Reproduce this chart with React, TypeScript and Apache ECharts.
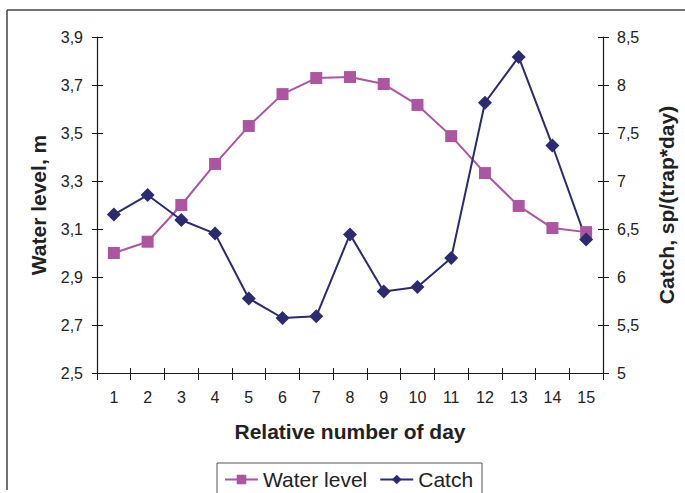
import React, { useEffect, useRef } from "react";
import * as echarts from "echarts";

const days = ["1", "2", "3", "4", "5", "6", "7", "8", "9", "10", "11", "12", "13", "14", "15"];
const waterLevel = [3.0, 3.047, 3.2, 3.371, 3.529, 3.662, 3.729, 3.733, 3.704, 3.617, 3.487, 3.333, 3.196, 3.104, 3.087];
const catchValues = [6.65, 6.854, 6.594, 6.452, 5.776, 5.573, 5.59, 6.444, 5.85, 5.896, 6.198, 7.815, 8.292, 7.37, 6.39];

const WATER_COLOR = "#AC55A0";
const CATCH_COLOR = "#2C2A70";
const AXIS_COLOR = "#1a1a1a";
const FONT = "'Liberation Sans', Arial, sans-serif";

export default function App() {
  const ref = useRef<HTMLDivElement>(null);
  useEffect(() => {
    if (!ref.current) return;
    const chart = echarts.init(ref.current, null, { renderer: "svg" });
    const fmt = (v: number) => String(Math.round(v * 10) / 10).replace(".", ",");
    const labelStyle = { color: "#222", fontSize: 16, fontFamily: FONT };
    const nameStyle = { color: "#222", fontSize: 21, fontWeight: "bold" as const, fontFamily: FONT };
    chart.setOption({
      animation: false,
      backgroundColor: "#fff",
      grid: { left: 97, right: 82, top: 37, bottom: 120 },
      legend: {
        left: 224,
        top: 469,
        padding: 0,
        itemWidth: 33,
        itemHeight: 12,
        itemGap: 12,
        textStyle: { color: "#222", fontSize: 21, fontFamily: FONT },
        data: ["Water level", "Catch"],
      },
      graphic: [
        { type: "line", shape: { x1: 7, y1: 10, x2: 690, y2: 10 }, style: { stroke: "#444", lineWidth: 1.5 } },
        { type: "line", shape: { x1: 7, y1: 10, x2: 7, y2: 490 }, style: { stroke: "#444", lineWidth: 1.5 } },
        { type: "rect", shape: { x: 217, y: 463, width: 265, height: 45 }, style: { fill: "none", stroke: "#555", lineWidth: 1 } },
      ],
      xAxis: [
        {
          type: "category",
          data: days,
          boundaryGap: true,
          name: "Relative number of day",
          nameLocation: "middle",
          nameGap: 48,
          nameTextStyle: nameStyle,
          axisLine: { lineStyle: { color: AXIS_COLOR, width: 1.2 } },
          axisTick: { show: true, length: 7, lineStyle: { color: AXIS_COLOR } },
          axisLabel: { ...labelStyle, margin: 16 },
          splitLine: { show: false },
        },
        {
          type: "category",
          data: days,
          boundaryGap: true,
          position: "bottom",
          axisLine: { show: false },
          axisTick: { show: true, inside: true, length: 5, lineStyle: { color: AXIS_COLOR } },
          axisLabel: { show: false },
          splitLine: { show: false },
        },
      ],
      yAxis: [
        {
          type: "value",
          position: "left",
          min: 2.5,
          max: 3.9,
          interval: 0.2,
          name: "Water level, m",
          nameLocation: "middle",
          nameGap: 48,
          nameRotate: 90,
          nameTextStyle: nameStyle,
          axisLine: { show: true, lineStyle: { color: AXIS_COLOR, width: 1.2 } },
          axisTick: { show: true, length: 5, lineStyle: { color: AXIS_COLOR } },
          axisLabel: { ...labelStyle, margin: 14, formatter: (v: number) => v.toFixed(1).replace(".", ",") },
          splitLine: { show: false },
        },
        {
          type: "value",
          position: "left",
          min: 2.5,
          max: 3.9,
          interval: 0.2,
          axisLine: { show: false },
          axisTick: { show: true, inside: true, length: 6, lineStyle: { color: AXIS_COLOR } },
          axisLabel: { show: false },
          splitLine: { show: false },
        },
        {
          type: "value",
          position: "right",
          min: 5,
          max: 8.5,
          interval: 0.5,
          name: "Catch, sp/(trap*day)",
          nameLocation: "middle",
          nameGap: 53,
          nameRotate: 90,
          nameTextStyle: nameStyle,
          axisLine: { show: true, lineStyle: { color: AXIS_COLOR, width: 1.2 } },
          axisTick: { show: true, length: 6, lineStyle: { color: AXIS_COLOR } },
          axisLabel: { ...labelStyle, margin: 14, formatter: fmt },
          splitLine: { show: false },
        },
        {
          type: "value",
          position: "right",
          min: 5,
          max: 8.5,
          interval: 0.5,
          axisLine: { show: false },
          axisTick: { show: true, inside: true, length: 5, lineStyle: { color: AXIS_COLOR } },
          axisLabel: { show: false },
          splitLine: { show: false },
        },
      ],
      series: [
        {
          name: "Water level",
          type: "line",
          xAxisIndex: 0,
          yAxisIndex: 0,
          data: waterLevel,
          symbol: "rect",
          symbolSize: 12,
          lineStyle: { color: WATER_COLOR, width: 2 },
          itemStyle: { color: WATER_COLOR },
        },
        {
          name: "Catch",
          type: "line",
          xAxisIndex: 0,
          yAxisIndex: 2,
          data: catchValues,
          symbol: "diamond",
          symbolSize: 14,
          lineStyle: { color: CATCH_COLOR, width: 2 },
          itemStyle: { color: CATCH_COLOR },
        },
      ],
    });
    return () => chart.dispose();
  }, []);
  return <div ref={ref} style={{ width: 685, height: 493, position: "absolute", left: 0, top: 0 }} />;
}
